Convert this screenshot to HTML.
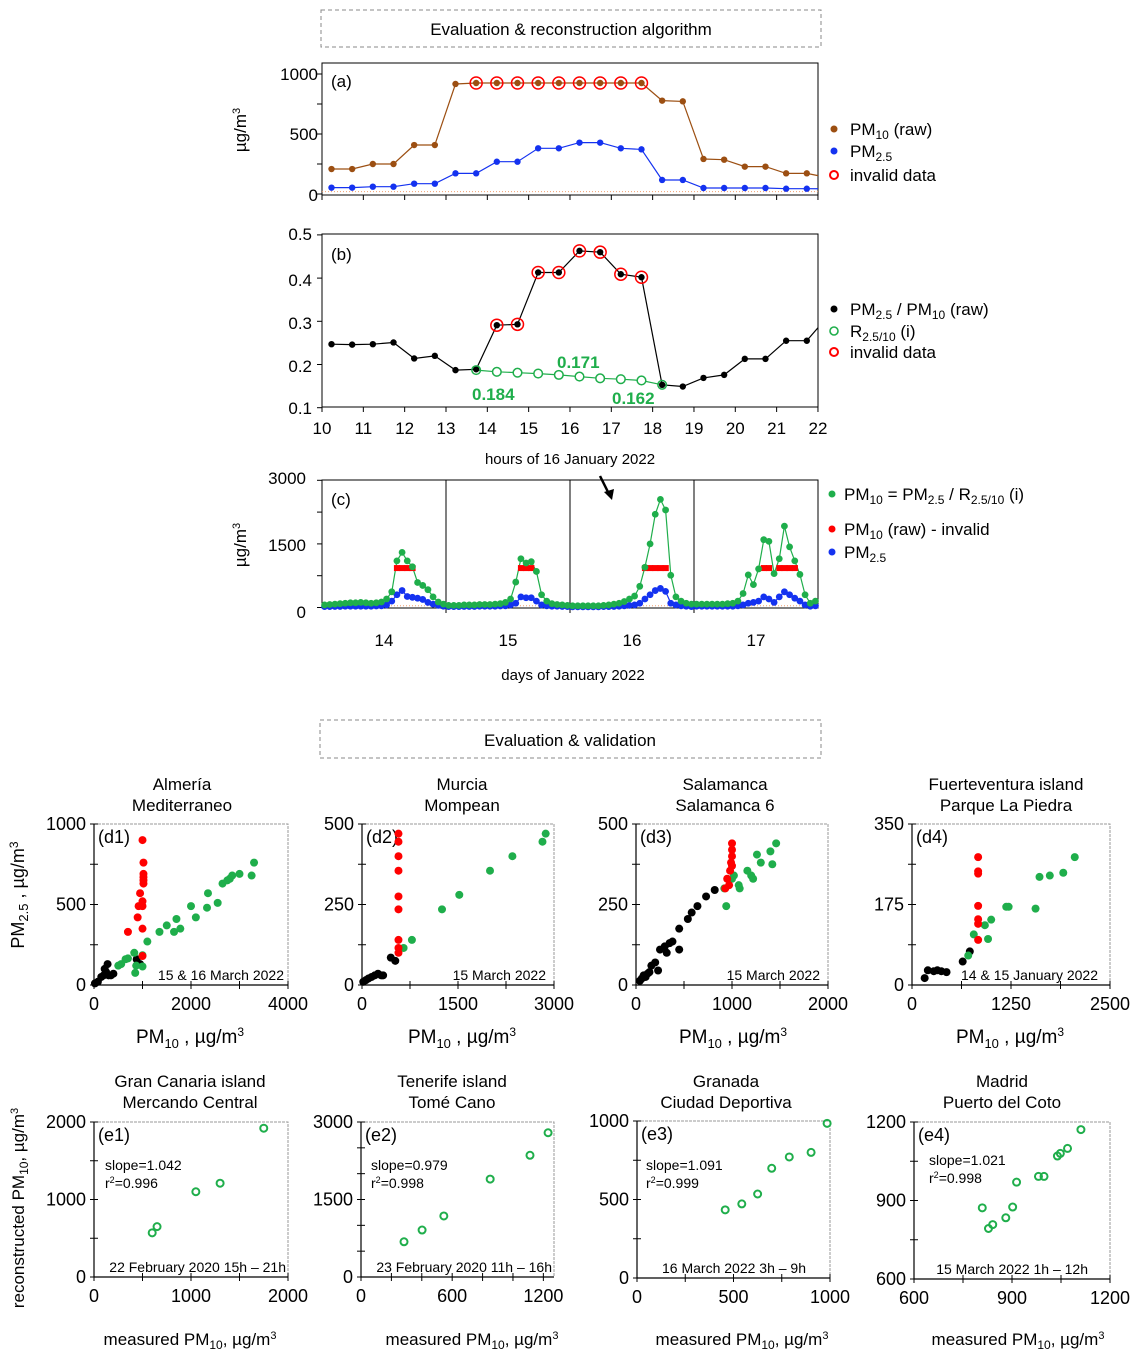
<!DOCTYPE html>
<html><head><meta charset="utf-8">
<style>
body{margin:0;background:#fff;}
svg{display:block;font-family:"Liberation Sans",Arial,sans-serif;}
.t{font-size:17px;fill:#000;}
.s{font-size:14px;fill:#000;}
</style></head>
<body>
<svg id="fig" width="1139" height="1361" viewBox="0 0 1139 1361" xmlns="http://www.w3.org/2000/svg">
<rect x="321" y="10" width="500" height="37" fill="none" stroke="#888" stroke-dasharray="4,3"/>
<text x="571" y="35" text-anchor="middle" class="t">Evaluation &amp; reconstruction algorithm</text>
<rect x="320" y="720" width="501" height="38" fill="none" stroke="#888" stroke-dasharray="4,3"/>
<text x="570" y="746" text-anchor="middle" class="t">Evaluation &amp; validation</text>

<!-- panel a texts -->
<text x="318" y="80" text-anchor="end" class="t">1000</text>
<text x="318" y="140" text-anchor="end" class="t">500</text>
<text x="318" y="201" text-anchor="end" class="t">0</text>
<text transform="translate(246,130) rotate(-90)" text-anchor="middle" class="t">µg/m<tspan dy="-6" font-size="11">3</tspan></text>
<text x="331" y="87" class="t">(a)</text>
<g>
<circle cx="834" cy="129" r="3.5" fill="#9c4f12"/><text x="850" y="135" class="t">PM<tspan font-size="12" dy="4">10</tspan><tspan dy="-4"> (raw)</tspan></text>
<circle cx="834" cy="151" r="3.5" fill="#1432f0"/><text x="850" y="157" class="t">PM<tspan font-size="12" dy="4">2.5</tspan></text>
<circle cx="834" cy="175" r="4" fill="none" stroke="#f00" stroke-width="2"/><text x="850" y="181" class="t">invalid data</text>
</g>

<!-- panel b texts -->
<g>
<text x="312" y="240" text-anchor="end" class="t">0.5</text>
<text x="312" y="286" text-anchor="end" class="t">0.4</text>
<text x="312" y="329" text-anchor="end" class="t">0.3</text>
<text x="312" y="372" text-anchor="end" class="t">0.2</text>
<text x="312" y="414" text-anchor="end" class="t">0.1</text>
</g>
<text x="331" y="260" class="t">(b)</text>
<text x="570" y="464" text-anchor="middle" font-size="15">hours of 16 January 2022</text>
<text x="472" y="400" font-size="17" font-weight="bold" fill="#1fae4b">0.184</text>
<text x="557" y="368" font-size="17" font-weight="bold" fill="#1fae4b">0.171</text>
<text x="612" y="404" font-size="17" font-weight="bold" fill="#1fae4b">0.162</text>
<g>
<circle cx="834" cy="309" r="3.5" fill="#000"/><text x="850" y="315" class="t">PM<tspan font-size="12" dy="4">2.5</tspan><tspan dy="-4"> / PM</tspan><tspan font-size="12" dy="4">10</tspan><tspan dy="-4">  (raw)</tspan></text>
<circle cx="834" cy="331" r="4" fill="none" stroke="#1fae4b" stroke-width="1.6"/><text x="850" y="337" class="t">R<tspan font-size="12" dy="4">2.5/10</tspan><tspan dy="-4"> (i)</tspan></text>
<circle cx="834" cy="352" r="4" fill="none" stroke="#f00" stroke-width="2"/><text x="850" y="358" class="t">invalid data</text>
</g>

<!-- panel c texts -->
<text x="306" y="484" text-anchor="end" class="t">3000</text>
<text x="306" y="551" text-anchor="end" class="t">1500</text>
<text x="306" y="618" text-anchor="end" class="t">0</text>
<text transform="translate(246,545) rotate(-90)" text-anchor="middle" class="t">µg/m<tspan dy="-6" font-size="11">3</tspan></text>
<text x="331" y="505" class="t">(c)</text>
<text x="573" y="680" text-anchor="middle" font-size="15">days of January 2022</text>
<path d="M600 476 L609 494" stroke="#000" stroke-width="2.5"/>
<path d="M604 492 L612 500 L614 489 Z" fill="#000"/>
<g>
<circle cx="832" cy="494" r="3.5" fill="#1fae4b"/><text x="844" y="500" class="t">PM<tspan font-size="12" dy="4">10</tspan><tspan dy="-4"> = PM</tspan><tspan font-size="12" dy="4">2.5</tspan><tspan dy="-4"> / R</tspan><tspan font-size="12" dy="4">2.5/10</tspan><tspan dy="-4"> (i)</tspan></text>
<circle cx="832" cy="529" r="3.5" fill="#f00"/><text x="844" y="535" class="t">PM<tspan font-size="12" dy="4">10</tspan><tspan dy="-4"> (raw) - invalid</tspan></text>
<circle cx="832" cy="552" r="3.5" fill="#1432f0"/><text x="844" y="558" class="t">PM<tspan font-size="12" dy="4">2.5</tspan></text>
</g>

<!-- row d/e titles -->
<g class="t" text-anchor="middle">
<text x="182" y="790">Almería</text><text x="182" y="811">Mediterraneo</text>
<text x="462" y="790">Murcia</text><text x="462" y="811">Mompean</text>
<text x="725" y="790">Salamanca</text><text x="725" y="811">Salamanca 6</text>
<text x="1006" y="790">Fuerteventura island</text><text x="1006" y="811">Parque La Piedra</text>
<text x="190" y="1087">Gran Canaria island</text><text x="190" y="1108">Mercando Central</text>
<text x="452" y="1087">Tenerife island</text><text x="452" y="1108">Tomé Cano</text>
<text x="726" y="1087">Granada</text><text x="726" y="1108">Ciudad Deportiva</text>
<text x="1002" y="1087">Madrid</text><text x="1002" y="1108">Puerto del Coto</text>
</g>
<text transform="translate(24,895) rotate(-90)" text-anchor="middle" font-size="18">PM<tspan font-size="13" dy="4">2.5</tspan><tspan dy="-4"> , µg/m</tspan><tspan font-size="12" dy="-6">3</tspan></text>
<text transform="translate(24,1208) rotate(-90)" text-anchor="middle" font-size="17">reconstructed PM<tspan font-size="12" dy="4">10</tspan><tspan dy="-4">, µg/m</tspan><tspan font-size="11" dy="-6">3</tspan></text>
<g id="dyn"></g>
</svg>
<script>
// ---- panel a/b data (half-hourly, 16 Jan 2022) ----
const hoursA = [10.23,10.73,11.23,11.73,12.23,12.73,13.23,13.73,14.23,14.73,15.23,15.73,16.23,16.73,17.23,17.73,18.23,18.73,19.23,19.73,20.23,20.73,21.23,21.73];
const pm10Raw = [208,208,250,250,408,408,917,925,925,925,925,925,925,925,925,925,778,772,292,286,228,228,172,172];
const pm25 = [53,53,61,61,86,86,172,172,269,269,381,381,428,428,381,372,117,117,50,50,50,50,44,44];
const invalidA = [7,8,9,10,11,12,13,14,15];
const ratioRaw = [0.247,0.246,0.247,0.251,0.214,0.220,0.187,0.189,0.291,0.293,0.413,0.413,0.463,0.460,0.409,0.402,0.153,0.149,0.169,0.176,0.213,0.213,0.255,0.255];
const invalidB = [8,9,10,11,12,13,14,15];
const rStart = 7;
const rInterp = [0.187,0.183,0.181,0.179,0.176,0.172,0.168,0.166,0.163,0.153];
// ---- panel c data (hourly, 14-17 Jan 2022) ----
const daysC = ['14','15','16','17'];
const greenC = [
 60,70,80,90,100,110,110,120,110,100,110,130,200,370,1100,1300,1100,960,590,520,420,250,130,80,
 50,50,50,60,60,60,70,70,70,80,90,120,200,600,1150,1050,1080,850,300,150,90,70,60,50,
 40,40,40,40,40,40,50,60,80,100,140,200,270,500,950,1500,2200,2550,2300,760,250,150,100,80,
 80,80,80,80,80,80,90,100,150,330,770,540,910,1600,1560,800,1150,1920,1430,1100,780,300,100,150];
const blueC = [
 20,20,25,25,30,30,30,30,30,30,35,40,60,150,300,400,260,240,220,190,120,80,50,30,
 20,20,20,25,25,25,30,30,30,30,35,40,60,100,250,230,230,150,60,40,30,30,25,20,
 15,15,15,15,15,15,20,20,25,30,40,50,60,100,200,300,400,450,380,100,60,40,30,20,
 30,30,30,30,30,30,30,30,40,60,100,120,150,250,200,120,250,370,300,220,150,60,30,40];
const redC = [
 null,null,null,null,null,null,null,null,null,null,null,null,null,null,930,930,930,930,null,null,null,null,null,null,
 null,null,null,null,null,null,null,null,null,null,null,null,null,null,930,930,930,null,null,null,null,null,null,null,
 null,null,null,null,null,null,null,null,null,null,null,null,null,null,930,930,930,930,930,null,null,null,null,null,
 null,null,null,null,null,null,null,null,null,null,null,null,null,930,930,null,930,930,930,930,null,null,null,null];
// ---- scatter data (d row) ----
const d1Green = [[500,120],[560,130],[650,160],[700,165],[830,200],[870,120],[850,75],[1000,115],[1000,185],[1100,270],[1350,330],[1500,370],[1650,330],[1700,410],[1780,350],[2000,490],[2100,420],[2350,570],[2330,480],[2550,510],[2650,630],[2750,650],[2800,660],[2850,680],[3000,690],[3250,680],[3300,760]];
const d1Red = [[700,330],[900,420],[920,490],[950,570],[1000,490],[1000,520],[1000,350],[1020,630],[1020,650],[1020,670],[1020,690],[1020,760],[1000,900],[1000,180]];
const d1Black = [[20,10],[80,20],[150,50],[200,60],[250,80],[280,130],[300,60],[350,60],[400,70],[220,100],[880,160],[950,130]];
const d2Green = [[650,115],[780,140],[1250,235],[1520,280],[2000,355],[2350,400],[2820,445],[2870,470]];
const d2Red = [[570,100],[570,115],[570,140],[570,235],[570,275],[570,355],[570,400],[570,445],[570,470]];
const d2Black = [[20,10],[60,15],[100,20],[150,25],[200,30],[250,35],[300,30],[330,30],[450,85],[520,75]];
const d3Green = [[920,300],[940,245],[1000,330],[1020,340],[1070,310],[1080,300],[1160,355],[1200,340],[1220,330],[1260,405],[1300,380],[1400,415],[1420,375],[1460,440]];
const d3Red = [[930,300],[950,330],[970,310],[980,355],[990,380],[1000,400],[1000,420],[1000,440],[1000,370]];
const d3Black = [[40,13],[60,20],[80,30],[100,25],[120,35],[140,40],[160,60],[200,70],[230,45],[250,110],[300,120],[320,100],[350,130],[380,135],[450,110],[450,175],[540,205],[580,225],[640,245],[730,275],[820,295]];
const d4Green = [[710,64],[780,110],[920,130],[960,100],[1000,142],[1190,170],[1220,170],[1560,166],[1610,235],[1740,238],[1910,244],[2055,278]];
const d4Red = [[835,278],[835,247],[835,242],[835,172],[835,143],[835,133],[835,98]];
const d4Black = [[160,15],[200,32],[275,30],[320,32],[370,30],[436,28],[640,51],[730,73]];
// ---- scatter data (e row) ----
const e1Pts = [[600,570],[650,650],[1050,1100],[1300,1210],[1750,1920]];
const e2Pts = [[283,682],[402,909],[545,1181],[850,1895],[1112,2356],[1231,2792]];
const e3Pts = [[457,434],[543,472],[625,535],[698,699],[789,771],[902,800],[985,985]];
const e4Pts = [[809,872],[828,793],[841,808],[881,834],[902,875],[914,970],[981,992],[998,992],[1039,1070],[1048,1080],[1070,1099],[1111,1171]];

const NS='http://www.w3.org/2000/svg';
const root=document.getElementById('dyn');
function mk(tag,attrs,parent){const e=document.createElementNS(NS,tag);for(const k in attrs)e.setAttribute(k,attrs[k]);(parent||root).appendChild(e);return e;}
const BROWN='#9c4f12',BLUE='#1432f0',GREEN='#1fae4b',RED='#f00';

// ===== panel a =====
const ax=h=>322+(h-10)*41.33;
const ay=v=>194-v*0.12;
let g=mk('rect',{x:322,y:63,width:496,height:132,fill:'none',stroke:'#000','stroke-width':1});


for(let h=10;h<=22;h++){const t=mk('line',{x1:ax(h),x2:ax(h),y1:195,y2:200,stroke:'#000'});

}
for(let v=0;v<=1000;v+=250){const t=mk('line',{x1:317,x2:322,y1:ay(v),y2:ay(v),stroke:'#000'});

}
let base=mk('line',{x1:322,x2:818,y1:ay(20),y2:ay(20),stroke:'#f0a070','stroke-dasharray':'1,2','stroke-width':1});


function polyline(xs,ys,color,name,extra){let p=xs.map((x,i)=>x.toFixed(1)+','+ys[i].toFixed(1)).join(' ');if(extra)p+=' '+extra;const l=mk('polyline',{points:p,fill:'none',stroke:color,'stroke-width':1.2});return l;}
let l1=polyline(hoursA.map(ax),pm10Raw.map(ay),BROWN,'',ax(22)+','+ay(153));


let l2=polyline(hoursA.map(ax),pm25.map(ay),BLUE,'',ax(22)+','+ay(44));


hoursA.forEach((h,i)=>{
 const c1=mk('circle',{cx:ax(h),cy:ay(pm10Raw[i]),r:3.2,fill:BROWN});
 
 
 const c2=mk('circle',{cx:ax(h),cy:ay(pm25[i]),r:3.2,fill:BLUE});
 
 
});
invalidA.forEach(i=>{const c=mk('circle',{cx:ax(hoursA[i]),cy:ay(pm10Raw[i]),r:6,fill:'none',stroke:RED,'stroke-width':1.5});

});

// ===== panel b =====
const by=v=>407.7-(v-0.1)*432;
g=mk('rect',{x:322,y:234,width:496,height:173,fill:'none',stroke:'#000','stroke-width':1});


for(let h=10;h<=22;h++){const t=mk('line',{x1:ax(h),x2:ax(h),y1:407,y2:412,stroke:'#000'});


const tx=mk('text',{x:ax(h),y:434,'text-anchor':'middle','class':'t'});tx.textContent=h;

}
for(let k=1;k<=5;k++){const t=mk('line',{x1:317,x2:322,y1:by(k/10),y2:by(k/10),stroke:'#000'});

}
let l3=polyline(hoursA.map(ax),ratioRaw.map(by),'#000','',ax(22)+','+by(0.285));


let l4=polyline(rInterp.map((v,k)=>ax(hoursA[rStart+k])),rInterp.map(by),GREEN,'');


hoursA.forEach((h,i)=>{const c=mk('circle',{cx:ax(h),cy:by(ratioRaw[i]),r:3.2,fill:'#000'});

});
rInterp.forEach((v,k)=>{const end=(k===0||k===rInterp.length-1);const c=mk('circle',{cx:ax(hoursA[rStart+k]),cy:by(v),r:4.3,fill:end?'none':'#fff',stroke:GREEN,'stroke-width':1.5});

});
invalidB.forEach(i=>{const c=mk('circle',{cx:ax(hoursA[i]),cy:by(ratioRaw[i]),r:6,fill:'none',stroke:RED,'stroke-width':1.5});

});

// ===== panel c =====
const cx=i=>322+(i+0.5)/96*496;
const cy=v=>607.5-v*0.0424;
g=mk('rect',{x:322,y:480,width:496,height:128,fill:'none',stroke:'#000','stroke-width':1});


daysC.forEach((d,k)=>{
 if(k>0){const l=mk('line',{x1:322+k*124,x2:322+k*124,y1:480,y2:613,stroke:'#000'});
 
 }
 const tx=mk('text',{x:322+k*124+62,y:646,'text-anchor':'middle','class':'t'});tx.textContent=d;
 
 
});
for(let v=0;v<=3000;v+=750){const t=mk('line',{x1:317,x2:322,y1:cy(v),y2:cy(v),stroke:'#000'});

}
let base2=mk('line',{x1:322,x2:818,y1:cy(40),y2:cy(40),stroke:'#f0a070','stroke-dasharray':'1,2'});


let l5=polyline(greenC.map((v,i)=>cx(i)),greenC.map(cy),GREEN,'');


let l6=polyline(blueC.map((v,i)=>cx(i)),blueC.map(cy),BLUE,'');


blueC.forEach((v,i)=>{const c=mk('circle',{cx:cx(i),cy:cy(v),r:3.4,fill:BLUE});

});
redC.forEach((v,i)=>{if(v===null)return;const r=mk('rect',{x:cx(i)-3,y:cy(v)-3,width:6.2,height:6,fill:RED});

});
greenC.forEach((v,i)=>{const c=mk('circle',{cx:cx(i),cy:cy(v),r:3.4,fill:GREEN});

});

// ===== scatter panels =====
function panel(name,bx,by0,bw,bh,xmin,xmax,ymin,ymax,xticks,yticks,minorX,minorY,label,note,noteX){
 const X=v=>bx+(v-xmin)/(xmax-xmin)*bw, Y=v=>by0+bh-(v-ymin)/(ymax-ymin)*bh;
 const fr=mk('rect',{x:bx,y:by0,width:bw,height:bh,fill:'none',stroke:'#999','stroke-dasharray':'3,1','stroke-width':1});
 
 
 const ax1=mk('path',{d:`M${bx} ${by0} V${by0+bh} H${bx+bw}`,fill:'none',stroke:'#000','stroke-width':1.2});
 
 
 minorX.forEach(v=>{const t=mk('line',{x1:X(v),x2:X(v),y1:by0+bh-4,y2:by0+bh+4,stroke:'#000'});
 
 });
 minorY.forEach(v=>{const t=mk('line',{x1:bx-4,x2:bx+4,y1:Y(v),y2:Y(v),stroke:'#000'});
 
 });
 xticks.forEach(v=>{const t=mk('text',{x:X(v),y:by0+bh+25,'text-anchor':'middle',"font-size":18});t.textContent=v;
 
 });
 yticks.forEach(v=>{const t=mk('text',{x:bx-8,y:Y(v)+6,'text-anchor':'end',"font-size":18});t.textContent=v;
 
 });
 const lb=mk('text',{x:bx+4,y:by0+19,"font-size":18});lb.textContent=label;
 
 
 const nt=mk('text',{x:noteX,y:by0+bh-5,'text-anchor':'end','class':'s'});nt.textContent=note;
 
 
 return {X,Y};
}
function dots(p,pts,color,name){pts.forEach(d=>{const c=mk('circle',{cx:p.X(d[0]),cy:p.Y(d[1]),r:4,fill:color});

});}
function rings(p,pts,name){pts.forEach(d=>{const c=mk('circle',{cx:p.X(d[0]),cy:p.Y(d[1]),r:3.5,fill:'none',stroke:GREEN,'stroke-width':2});

});}

const pd1=panel('d1',94,824,194,161,0,4000,0,1000,[0,2000,4000],[0,500,1000],[0,1000,2000,3000,4000],[0,250,500,750,1000],'(d1)','15 & 16 March 2022',284);
dots(pd1,d1Black,'#000','d1-valid-point');dots(pd1,d1Green,GREEN,'d1-reconstructed-point');dots(pd1,d1Red,RED,'d1-invalid-point');
const pd2=panel('d2',362,824,192,161,0,3000,0,500,[0,1500,3000],[0,250,500],[0,750,1500,2250,3000],[0,125,250,375,500],'(d2)','15 March 2022',546);
dots(pd2,d2Black,'#000','d2-valid-point');dots(pd2,d2Green,GREEN,'d2-reconstructed-point');dots(pd2,d2Red,RED,'d2-invalid-point');
const pd3=panel('d3',636,824,192,161,0,2000,0,500,[0,1000,2000],[0,250,500],[0,500,1000,1500,2000],[0,125,250,375,500],'(d3)','15 March 2022',820);
dots(pd3,d3Black,'#000','d3-valid-point');dots(pd3,d3Green,GREEN,'d3-reconstructed-point');dots(pd3,d3Red,RED,'d3-invalid-point');
const pd4=panel('d4',912,824,198,161,0,2500,0,350,[0,1250,2500],[0,175,350],[0,625,1250,1875,2500],[0,87.5,175,262.5,350],'(d4)','14 & 15 January 2022',1098);
dots(pd4,d4Black,'#000','d4-valid-point');dots(pd4,d4Green,GREEN,'d4-reconstructed-point');dots(pd4,d4Red,RED,'d4-invalid-point');

const pe1=panel('e1',94,1122,194,155,0,2000,0,2000,[0,1000,2000],[0,1000,2000],[0,500,1000,1500,2000],[0,500,1000,1500,2000],'(e1)','22 February 2020 15h – 21h',286);
rings(pe1,e1Pts,'e1-point');
const pe2=panel('e2',361,1122,193,155,0,1270,0,3000,[0,600,1200],[0,1500,3000],[0,200,400,600,800,1000,1200],[0,500,1000,1500,2000,2500,3000],'(e2)','23 February 2020 11h – 16h',552);
rings(pe2,e2Pts,'e2-point');
const pe3=panel('e3',637,1121,193,157,0,1000,0,1000,[0,500,1000],[0,500,1000],[0,250,500,750,1000],[0,250,500,750,1000],'(e3)','16 March 2022 3h – 9h',806);
rings(pe3,e3Pts,'e3-point');
const pe4=panel('e4',914,1122,196,157,600,1200,600,1200,[600,900,1200],[600,900,1200],[600,750,900,1050,1200],[600,750,900,1050,1200],'(e4)','15 March 2022 1h – 12h',1088);
rings(pe4,e4Pts,'e4-point');

// stats annotations
[[pe1,105,'1.042','0.996'],[pe2,371,'0.979','0.998'],[pe3,646,'1.091','0.999'],[pe4,929,'1.021','0.998']].forEach((s,k)=>{
 const t1=mk('text',{x:s[1],y:k===3?1165:1170,'class':'s'});t1.textContent='slope='+s[2];
 
 
 const t2=mk('text',{x:s[1],y:k===3?1183:1188,'class':'s'});
 
 
 t2.innerHTML='r<tspan dy="-5" font-size="9">2</tspan><tspan dy="5">='+s[3]+'</tspan>';
});
// axis titles
[[190,'d'],[462,'d'],[733,'d'],[1010,'d']].forEach(a=>{const t=mk('text',{x:a[0],y:1043,'text-anchor':'middle','font-size':19});
t.innerHTML='PM<tspan font-size="13" dy="5">10</tspan><tspan dy="-5"> , µg/m</tspan><tspan font-size="12" dy="-7">3</tspan>';

});
[[190],[472],[742],[1018]].forEach(a=>{const t=mk('text',{x:a[0],y:1345,'text-anchor':'middle','font-size':17});
t.innerHTML='measured PM<tspan font-size="12" dy="4">10</tspan><tspan dy="-4">, µg/m</tspan><tspan font-size="11" dy="-6">3</tspan>';

});
</script>
</body></html>
